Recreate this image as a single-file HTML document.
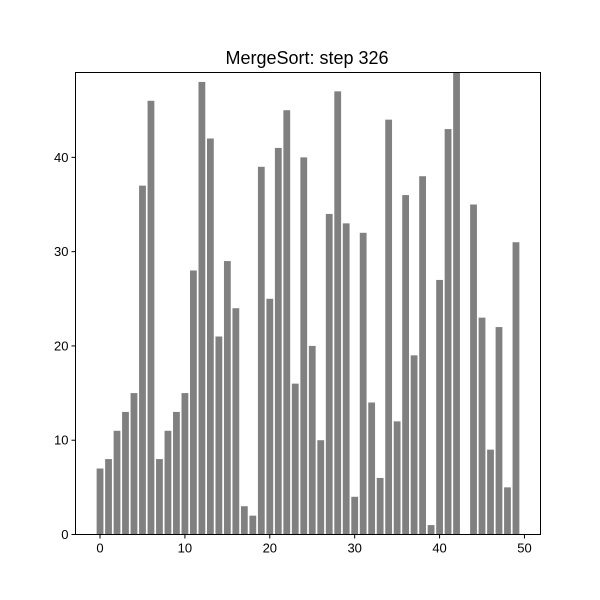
<!DOCTYPE html>
<html><head><meta charset="utf-8"><style>body{margin:0;background:#fff}svg{display:block;font-family:"Liberation Sans","DejaVu Sans",sans-serif}</style></head>
<body>
<svg id="chart" width="600" height="600">
<rect width="600" height="600" fill="#fff"/>
<text x="307" y="64" font-size="18" text-anchor="middle">MergeSort: step 326</text>
<g id="bars"></g>
<g id="xticks"></g>
<g id="yticks"></g>
<rect x="75.5" y="72.5" width="465" height="462" fill="none" stroke="#000" stroke-width="1"/>
</svg>
<script>
const values = [7,8,11,13,15,37,46,8,11,13,15,28,48,42,21,29,24,3,2,39,25,41,45,16,40,20,10,34,47,33,4,32,14,6,44,12,36,19,38,1,27,43,49,0,35,23,9,22,5,31];
const xTickLabels = [0,10,20,30,40,50];
const yTickLabels = [0,10,20,30,40];
const L=75.5,R=540.5,T=72.5,B=534.5;
const xmin=-2.89,xmax=51.89,ymin=0,ymax=49;
const xs=v=>L+(v-xmin)/(xmax-xmin)*(R-L);
const ys=v=>B-(v-ymin)/(ymax-ymin)*(B-T);
const ns="http://www.w3.org/2000/svg";
const bars=document.getElementById('bars');
values.forEach((v,i)=>{
  const r=document.createElementNS(ns,'rect');
  r.setAttribute('x',xs(i-0.4));r.setAttribute('width',xs(i+0.4)-xs(i-0.4));
  r.setAttribute('y',ys(v));r.setAttribute('height',ys(0)-ys(v));
  r.setAttribute('fill','#808080');
  
  
  bars.appendChild(r);
});
const xt=document.getElementById('xticks');
xTickLabels.forEach(t=>{
  const x=xs(t);
  const l=document.createElementNS(ns,'line');
  l.setAttribute('x1',x);l.setAttribute('x2',x);l.setAttribute('y1',B);l.setAttribute('y2',B+4);l.setAttribute('stroke','#000');
  
  
  xt.appendChild(l);
  const s=document.createElementNS(ns,'text');
  s.setAttribute('x',x);s.setAttribute('y',B+18);s.setAttribute('font-size','13');s.setAttribute('text-anchor','middle');
  s.textContent=t;
  
  
  xt.appendChild(s);
});
const yt=document.getElementById('yticks');
yTickLabels.forEach(t=>{
  const y=ys(t);
  const l=document.createElementNS(ns,'line');
  l.setAttribute('x1',L-4);l.setAttribute('x2',L);l.setAttribute('y1',y);l.setAttribute('y2',y);l.setAttribute('stroke','#000');
  
  
  yt.appendChild(l);
  const s=document.createElementNS(ns,'text');
  s.setAttribute('x',L-7);s.setAttribute('y',y+4.5);s.setAttribute('font-size','13');s.setAttribute('text-anchor','end');
  s.textContent=t;
  
  
  yt.appendChild(s);
});
</script>
</body></html>
